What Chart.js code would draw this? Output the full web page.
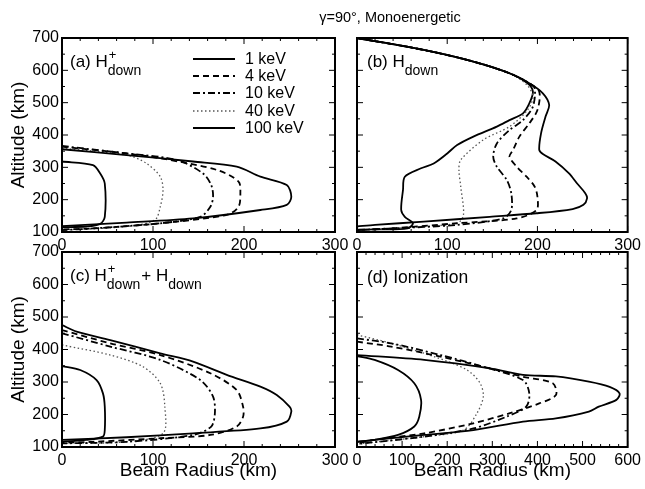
<!DOCTYPE html>
<html>
<head>
<meta charset="utf-8">
<script src="https://cdn.jsdelivr.net/npm/chart.js@4.4.1/dist/chart.umd.min.js"></script>
<style>
  body { margin: 0; background: #fff; }
  #wrap { position: relative; width: 645px; height: 489px; }
  #wrap canvas { position: absolute; left: 0; top: 0; }
</style>
</head>
<body>
<div id="wrap">
  <canvas id="pa" width="645" height="489"></canvas>
  <canvas id="pb" width="645" height="489"></canvas>
  <canvas id="pc" width="645" height="489"></canvas>
  <canvas id="pd" width="645" height="489"></canvas>
</div>
<script>
// energies, in legend order
const energies = ['1 keV', '4 keV', '10 keV', '40 keV', '100 keV'];
const altTicks = [100, 200, 300, 400, 500, 600, 700];

// (a) H+ down : beam radius (km) vs altitude (km)
const a1R   = [0, 71, 144, 192, 218, 247, 252, 247, 218, 144, 71, 0];
const a1Alt = [356, 338, 318, 302, 271, 245, 209, 184, 168, 142, 129, 118];
const a4R   = [0, 71, 108, 170, 194, 196, 194, 181, 108, 34, 0];
const a4Alt = [364, 343, 328, 292, 256, 220, 178, 153, 127, 111, 108];
const a10R   = [0, 71, 126, 155, 164, 166, 163, 152, 108, 34, 0];
const a10Alt = [366, 343, 323, 281, 245, 209, 178, 147, 127, 111, 106];
const a40R   = [0, 71, 93, 108, 111, 108, 102, 71, 0];
const a40Alt = [359, 338, 312, 271, 230, 178, 137, 117, 106];
const a100R   = [0, 34, 42, 47, 47, 42, 27, 0];
const a100Alt = [318, 307, 281, 250, 147, 125, 117, 115];

// (b) H down
const b1R   = [0, 74, 129, 169, 191, 206, 213, 209, 204, 202, 206, 220, 235, 244, 253, 255, 251, 239, 199, 147, 74, 20, 0];
const b1Alt = [700, 663, 627, 591, 560, 529, 493, 457, 405, 354, 341, 318, 281, 250, 220, 204, 184, 171, 158, 147, 132, 122, 117];
const b4R   = [0, 74, 129, 169, 191, 202, 200, 191, 180, 173, 169, 177, 188, 197, 200, 199, 177, 111, 38, 0];
const b4Alt = [700, 663, 627, 591, 560, 534, 477, 436, 395, 354, 333, 302, 271, 240, 209, 168, 142, 127, 111, 106];
const b10R   = [0, 74, 129, 169, 191, 197, 195, 184, 169, 155, 151, 155, 166, 171, 171, 162, 111, 38, 0];
const b10Alt = [700, 663, 627, 591, 560, 544, 488, 446, 415, 374, 333, 302, 261, 220, 168, 142, 122, 111, 106];
const b40R   = [0, 74, 129, 169, 188, 195, 189, 169, 140, 115, 113, 115, 118, 111, 38, 0];
const b40Alt = [700, 663, 627, 591, 556, 519, 477, 426, 385, 323, 292, 240, 153, 127, 111, 106];
const b100R   = [0, 74, 129, 169, 189, 195, 191, 184, 169, 155, 129, 111, 100, 85, 71, 53, 51, 49, 53, 62, 56, 20, 0];
const b100Alt = [700, 663, 627, 591, 560, 534, 498, 467, 446, 426, 395, 369, 343, 312, 297, 271, 230, 168, 147, 127, 111, 108, 107];

// (c) H+ down + H down
const c1R   = [0, 16, 53, 108, 144, 181, 218, 236, 250, 252, 247, 218, 144, 71, 0];
const c1Alt = [475, 455, 429, 388, 363, 322, 286, 260, 224, 209, 178, 157, 142, 130, 122];
const c4R   = [0, 53, 108, 163, 192, 199, 199, 192, 163, 108, 34, 0];
const c4Alt = [460, 419, 383, 327, 275, 224, 193, 163, 137, 127, 116, 113];
const c10R   = [0, 53, 108, 152, 166, 168, 164, 144, 71, 0];
const c10Alt = [450, 409, 368, 306, 255, 204, 163, 137, 116, 111];
const c40R   = [0, 53, 89, 108, 113, 111, 71, 0];
const c40Alt = [414, 383, 347, 296, 224, 142, 116, 111];
const c100R   = [0, 20, 38, 45, 47, 47, 45, 27, 0];
const c100Alt = [349, 337, 306, 265, 224, 152, 132, 122, 116];

// (d) Ionization
const d1R   = [0, 149, 295, 368, 441, 514, 560, 582, 575, 536, 514, 441, 368, 258, 149, 39, 0];
const d1Alt = [383, 368, 342, 322, 317, 301, 285, 265, 245, 224, 209, 188, 178, 152, 137, 122, 116];
const d4R   = [0, 76, 185, 295, 368, 434, 441, 404, 339, 258, 149, 39, 0];
const d4Alt = [424, 409, 378, 342, 316, 296, 260, 234, 204, 173, 142, 122, 111];
const d10R   = [0, 76, 185, 280, 368, 382, 375, 331, 258, 149, 0];
const d10Alt = [434, 419, 383, 347, 306, 265, 224, 193, 157, 132, 109];
const d40R   = [0, 76, 171, 244, 273, 280, 266, 236, 149, 0];
const d40Alt = [445, 419, 378, 337, 296, 255, 204, 152, 132, 109];
const d100R   = [0, 39, 91, 127, 142, 138, 127, 91, 39, 0];
const d100Alt = [380, 368, 337, 296, 245, 193, 163, 137, 122, 116];

const FONT = "'Liberation Sans', Arial, Helvetica, sans-serif";
const dashes = [[], [6, 4], [7, 3, 2, 3], [1.5, 2.5], []];
const colors = ['#000', '#000', '#000', '#555', '#000'];

function pts(r, alt) {
  return r.map((v, i) => ({ x: v, y: alt[i] }));
}

function txt(ctx, s, x, y, size) {
  ctx.font = size + 'px ' + FONT;
  ctx.fillText(s, x, y);
  return x + ctx.measureText(s).width;
}

// box + inward ticks on all four sides
const frameTicks = {
  id: 'frameTicks',
  afterDatasetsDraw(chart) {
    const ctx = chart.ctx, a = chart.chartArea;
    const xs = chart.scales.x, ys = chart.scales.y;
    ctx.save();
    ctx.strokeStyle = '#000';
    ctx.lineWidth = 1;
    ctx.beginPath();
    for (let v = xs.min; v <= xs.max; v += 20) {
      const p = xs.getPixelForValue(v);
      const len = v % 100 === 0 ? 6 : 3;
      ctx.moveTo(p, a.bottom); ctx.lineTo(p, a.bottom - len);
      ctx.moveTo(p, a.top); ctx.lineTo(p, a.top + len);
    }
    for (let v = ys.min; v <= ys.max; v += 50) {
      const p = ys.getPixelForValue(v);
      const len = v % 100 === 0 ? 6 : 3;
      ctx.moveTo(a.left, p); ctx.lineTo(a.left + len, p);
      ctx.moveTo(a.right, p); ctx.lineTo(a.right - len, p);
    }
    ctx.stroke();
    ctx.lineWidth = 2;
    ctx.strokeRect(a.left, a.top, a.right - a.left, a.bottom - a.top);
    ctx.restore();
  }
};

function makePanel(id, p) {
  const datasets = p.curves.map((c, i) => ({
    label: energies[i],
    data: pts(c[0], c[1]),
    showLine: true,
    borderColor: colors[i],
    borderWidth: i === 3 ? 1.3 : 1.8,
    borderDash: dashes[i],
    pointRadius: 0,
    tension: 0.3,
    fill: false
  }));
  const xh = p.xTitle ? 489 - p.area.b : 24;
  new Chart(document.getElementById(id), {
    type: 'scatter',
    data: { datasets: datasets },
    options: {
      responsive: false,
      animation: false,
      events: [],
      layout: {
        padding: {
          left: p.yLabels ? 0 : p.area.l,
          top: p.area.t,
          right: 645 - p.area.r,
          bottom: 489 - p.area.b - xh
        }
      },
      plugins: { legend: { display: false }, tooltip: { enabled: false } },
      scales: {
        x: {
          type: 'linear', min: 0, max: p.xMax,
          grid: { display: false, drawTicks: false },
          border: { display: false },
          ticks: { stepSize: 100, padding: 4, color: '#000', font: { family: FONT, size: 16 } },
          title: {
            display: p.xTitle, text: 'Beam Radius (km)', color: '#000',
            font: { family: FONT, size: 19 }, padding: { top: 0, bottom: 7 }
          },
          afterFit(s) { s.height = xh; }
        },
        y: {
          type: 'linear', min: 100, max: 700,
          grid: { display: false, drawTicks: false },
          border: { display: false },
          afterBuildTicks(s) { s.ticks = altTicks.map(v => ({ value: v })); },
          ticks: { display: p.yLabels, padding: 3, color: '#000', font: { family: FONT, size: 16 } },
          title: {
            display: p.yLabels, text: 'Altitude (km)', color: '#000',
            font: { family: FONT, size: 19 }, padding: { top: 7, bottom: 0 }
          },
          afterFit(s) { s.width = p.yLabels ? p.area.l : 0; }
        }
      }
    },
    plugins: [frameTicks, { id: 'extras', afterDraw(chart) { p.extras(chart.ctx, chart); } }]
  });
}

makePanel('pa', {
  area: { l: 62, t: 38, r: 335, b: 232 }, xMax: 300, yLabels: true, xTitle: false,
  curves: [[a1R, a1Alt], [a4R, a4Alt], [a10R, a10Alt], [a40R, a40Alt], [a100R, a100Alt]],
  extras(ctx, chart) {
    ctx.save();
    ctx.fillStyle = '#000';
    ctx.textAlign = 'center';
    txt(ctx, 'γ=90°, Monoenergetic', 390, 22, 14.5);
    ctx.textAlign = 'left';
    let x = txt(ctx, '(a) H', 70, 67, 17);
    txt(ctx, '+', x + 1, 59, 13);
    txt(ctx, 'down', x, 75, 14);
    // legend
    const rows = [59, 76, 93, 111, 128];
    chart.data.datasets.forEach((ds, i) => {
      ctx.strokeStyle = ds.borderColor;
      ctx.lineWidth = ds.borderWidth;
      ctx.setLineDash(ds.borderDash);
      ctx.beginPath();
      ctx.moveTo(193, rows[i]); ctx.lineTo(235, rows[i]);
      ctx.stroke();
      ctx.setLineDash([]);
      ctx.textBaseline = 'middle';
      txt(ctx, ds.label, 245, rows[i] + 1, 16);
    });
    ctx.restore();
  }
});

makePanel('pb', {
  area: { l: 357, t: 38, r: 631, b: 232 }, xMax: 300, yLabels: false, xTitle: false,
  curves: [[b1R, b1Alt], [b4R, b4Alt], [b10R, b10Alt], [b40R, b40Alt], [b100R, b100Alt]],
  extras(ctx) {
    ctx.save();
    ctx.fillStyle = '#000';
    const x = txt(ctx, '(b) H', 367, 67, 17);
    txt(ctx, 'down', x, 75, 14);
    ctx.restore();
  }
});

makePanel('pc', {
  area: { l: 62, t: 252, r: 335, b: 447 }, xMax: 300, yLabels: true, xTitle: true,
  curves: [[c1R, c1Alt], [c4R, c4Alt], [c10R, c10Alt], [c40R, c40Alt], [c100R, c100Alt]],
  extras(ctx) {
    ctx.save();
    ctx.fillStyle = '#000';
    let x = txt(ctx, '(c) H', 70, 281, 17);
    txt(ctx, '+', x + 1, 273, 13);
    x = txt(ctx, 'down', x, 289, 14);
    x = txt(ctx, '+ H', x + 1, 281, 17);
    txt(ctx, 'down', x, 289, 14);
    ctx.restore();
  }
});

makePanel('pd', {
  area: { l: 357, t: 252, r: 631, b: 447 }, xMax: 600, yLabels: false, xTitle: true,
  curves: [[d1R, d1Alt], [d4R, d4Alt], [d10R, d10Alt], [d40R, d40Alt], [d100R, d100Alt]],
  extras(ctx) {
    ctx.save();
    ctx.fillStyle = '#000';
    txt(ctx, '(d) Ionization', 367, 283, 17.5);
    ctx.restore();
  }
});
</script>
</body>
</html>
